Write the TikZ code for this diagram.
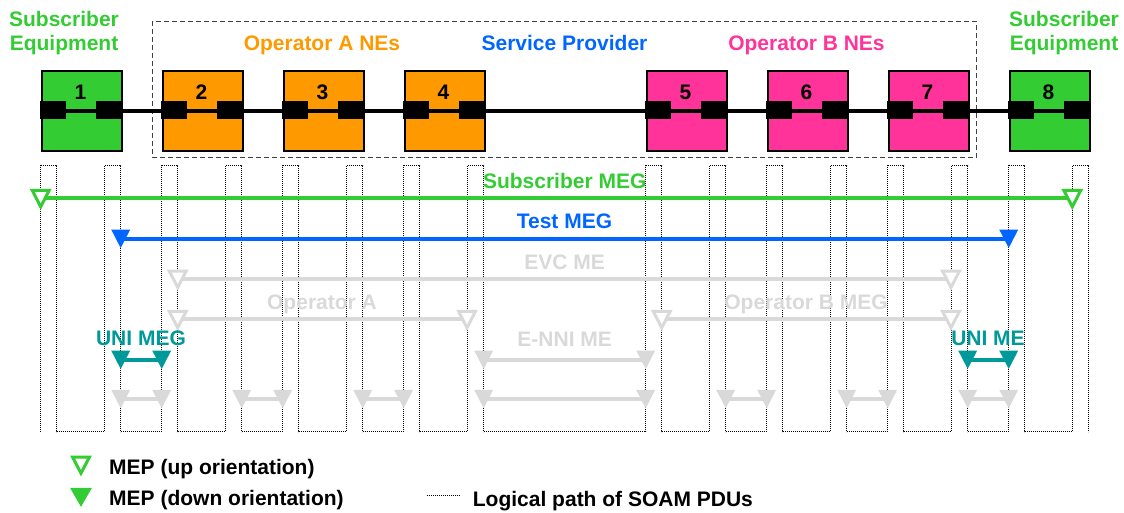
\documentclass[tikz,border=0pt]{standalone}
\usepackage{fontspec}
\setmainfont{Liberation Sans}
\definecolor{sgreen}{HTML}{33CC33}
\definecolor{sblue}{HTML}{0066FF}
\definecolor{sorange}{HTML}{FF9900}
\definecolor{spink}{HTML}{FF3399}
\definecolor{steal}{HTML}{009999}
\definecolor{sgray}{HTML}{D9D9D9}
\definecolor{dashgray}{HTML}{404040}
\begin{document}
\begin{tikzpicture}[x=1pt,y=-1pt,
  every node/.style={font=\fontsize{21}{23.5}\selectfont\bfseries, inner sep=0pt},
  nebox/.style={draw=black, line width=1.8pt, minimum width=80.5pt, minimum height=80.5pt, anchor=north west},
  port/.style={fill=black, minimum width=25.7pt, minimum height=18.5pt},
  dotline/.style={black, line width=0.9pt, dash pattern=on 0.9pt off 1.1pt},
  megline/.style={line width=4pt},
  lbl/.style={anchor=base},
  pics/upmep/.style={code={\draw[line width=3pt, draw=#1, fill=white] (-8.5,-8) -- (8.5,-8) -- (0,8.5) -- cycle;}},
  pics/downmep/.style={code={\fill[#1] (-9.5,-9.5) -- (9.5,-9.5) -- (0,9) -- cycle;}},
  pics/legup/.style={code={\draw[line width=3pt, draw=#1, fill=white] (-8.5,-8.5) -- (8.5,-8.5) -- (0,7.7) -- cycle;}},
  pics/legdown/.style={code={\fill[#1] (-11,-9.5) -- (11,-9.5) -- (0,9.5) -- cycle;}},
]
\useasboundingbox (0,0) rectangle (1124,512);

% ---- logical path of SOAM PDUs (dotted serpentine)
\foreach \x in {40,161,282,403,645,766,887,1008}{
  \draw[dotline] (\x+0.7,431.7) -- (\x+0.7,165.7) -- (\x+16.7,165.7) -- (\x+16.7,431.7)
     -- (\x+64,431.7) -- (\x+64,165.7) -- (\x+80.7,165.7) -- (\x+80.7,431.7);
}
\foreach \a/\b in {40/161,161/282,282/403,403/645,645/766,766/887,887/1008}{
  \draw[dotline] (\a+80.7,431.7) -- (\b+0.7,431.7);
}

% ---- service provider dashed frame
\draw[dashgray, line width=1pt, dash pattern=on 5pt off 3pt] (152.7,21) rectangle (976,157.7);

% ---- network elements
\node[nebox, fill=sgreen]  (b1) at (40.75,69.75) {};
\node[nebox, fill=sorange] (b2) at (161.75,69.75) {};
\node[nebox, fill=sorange] (b3) at (282.75,69.75) {};
\node[nebox, fill=sorange] (b4) at (403.75,69.75) {};
\node[nebox, fill=spink]   (b5) at (645.75,69.75) {};
\node[nebox, fill=spink]   (b6) at (766.75,69.75) {};
\node[nebox, fill=spink]   (b7) at (887.75,69.75) {};
\node[nebox, fill=sgreen]  (b8) at (1008.75,69.75) {};

\draw[line width=4.2pt] (b1.west) -- (b8.east);

\foreach \x/\n in {40/1,161/2,282/3,403/4,645/5,766/6,887/7,1008/8}{
  \node[port] (p\n l) at (\x+12.85,110) {};
  \node[port] (p\n r) at (\x+68.85,110) {};
  \node[lbl] (n\n) at (\x+40.5,99.5) {\n};
}

% ---- top labels
\node[sgreen, align=center] (seL) at (64,33) {Subscriber\\Equipment};
\node[sgreen, align=center] (seR) at (1064,33) {Subscriber\\Equipment};
\node[lbl, sorange] (opA) at (322,50.3) {Operator A NEs};
\node[lbl, sblue]   (spv) at (564.5,50.3) {Service Provider};
\node[lbl, spink]   (opB) at (806.5,50.3) {Operator B NEs};

% ---- MEG / ME lines
\coordinate (s1) at (40.7,198.3);  \coordinate (s2) at (1072.3,198.3);
\coordinate (t1) at (120.7,239);   \coordinate (t2) at (1008.7,239);
\coordinate (e1) at (177.7,279);   \coordinate (e2) at (951,279);
\coordinate (oa1) at (177.7,319.3); \coordinate (oa2) at (467,319.3);
\coordinate (ob1) at (661.7,319.3); \coordinate (ob2) at (951,319.3);
\coordinate (nn1) at (483.7,360);  \coordinate (nn2) at (645.7,360);
\coordinate (u1) at (120.7,360);   \coordinate (u2) at (161.7,360);
\coordinate (v1) at (967.7,360);   \coordinate (v2) at (1008.7,360);

\draw[megline, sgreen] (s1) -- (s2);
\draw[megline, sblue] (t1) -- (t2);
\draw[megline, sgray] (e1) -- (e2);
\draw[megline, sgray] (oa1) -- (oa2);
\draw[megline, sgray] (ob1) -- (ob2);
\draw[megline, sgray] (nn1) -- (nn2);
\draw[megline, steal] (u1) -- (u2);
\draw[megline, steal] (v1) -- (v2);

\pic at (s1) {upmep=sgreen}; \pic at (s2) {upmep=sgreen};
\pic at (t1) {downmep=sblue}; \pic at (t2) {downmep=sblue};
\pic at (e1) {upmep=sgray}; \pic at (e2) {upmep=sgray};
\pic at (oa1) {upmep=sgray}; \pic at (oa2) {upmep=sgray};
\pic at (ob1) {upmep=sgray}; \pic at (ob2) {upmep=sgray};
\pic at (nn1) {downmep=sgray}; \pic at (nn2) {downmep=sgray};
\pic at (u1) {downmep=steal}; \pic at (u2) {downmep=steal};
\pic at (v1) {downmep=steal}; \pic at (v2) {downmep=steal};

\foreach \a/\b [count=\i] in {120.7/161.7, 241.7/282.7, 362.7/403.7, 483.7/645.7, 725.7/766.7, 846.7/887.7, 967.7/1008.7}{
  \coordinate (r\i a) at (\a,399.3);
  \coordinate (r\i b) at (\b,399.3);
  \draw[megline, sgray] (r\i a) -- (r\i b);
  \pic at (r\i a) {downmep=sgray};
  \pic at (r\i b) {downmep=sgray};
}

% ---- MEG labels
\node[lbl, sgreen] (lsub) at (564.7,188) {Subscriber MEG};
\node[lbl, sblue]  (ltest) at (564.5,228.3) {Test MEG};
\node[lbl, sgray]  (levc) at (564.7,269) {EVC ME};
\node[lbl, sgray]  (lopa) at (322,309) {Operator A};
\node[lbl, sgray]  (lopb) at (806,309) {Operator B MEG};
\node[lbl, sgray]  (lenni) at (564.7,346.3) {E-NNI ME};
\node[lbl, steal]  (luni) at (141,345.7) {UNI MEG};
\node[lbl, steal]  (lunime) at (988,345.7) {UNI ME};

% ---- legend
\pic at (81,465.5) {legup=sgreen};
\pic at (81,497.3) {legdown=sgreen};
\node[lbl, anchor=base west] (lg1) at (109,474.3) {MEP (up orientation)};
\node[lbl, anchor=base west] (lg2) at (109,505) {MEP (down orientation)};
\coordinate (lp1) at (426.7,495.7); \coordinate (lp2) at (460,495.7);
\draw[dotline] (lp1) -- (lp2);
\node[lbl, anchor=base west] (lg3) at (472.7,506) {Logical path of SOAM PDUs};
\end{tikzpicture}
\end{document}
